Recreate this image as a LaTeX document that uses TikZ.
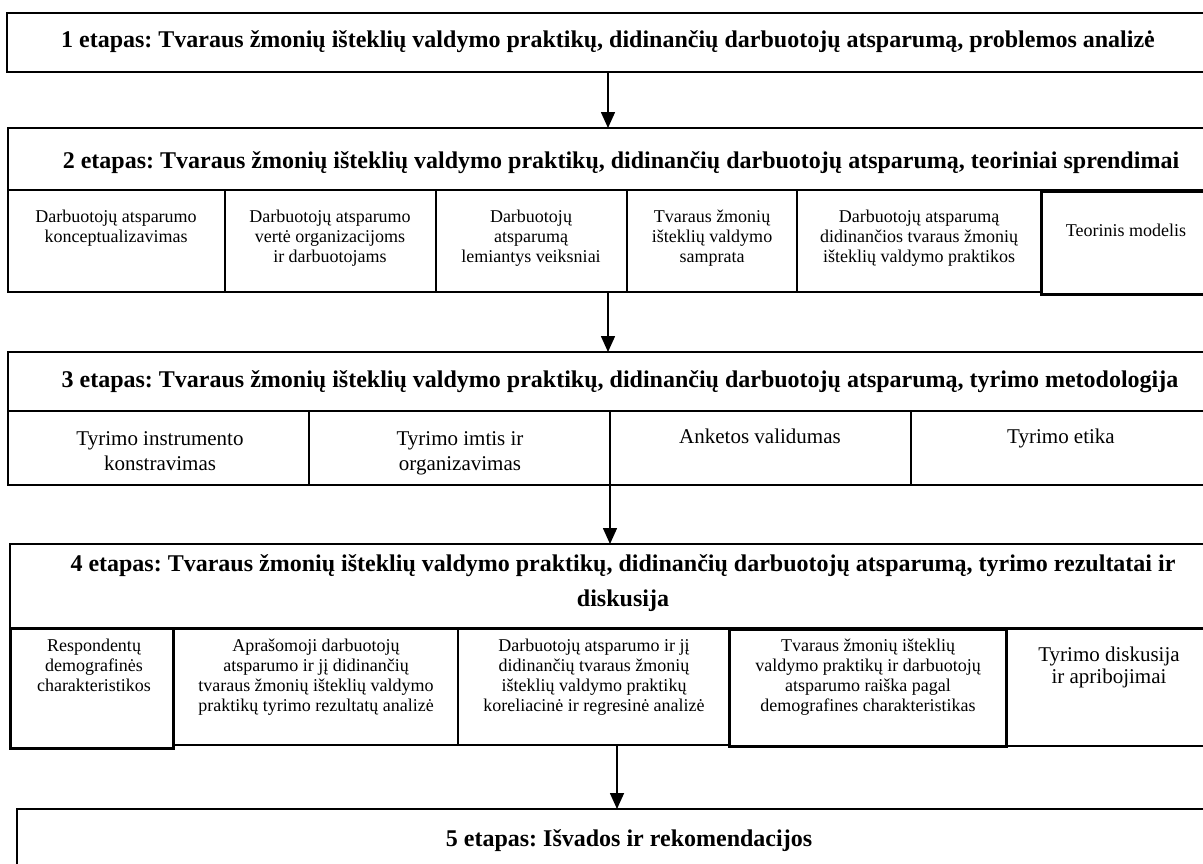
\documentclass[tikz,border=0pt]{standalone}
\usepackage{fontspec}
\setmainfont{Liberation Serif}
\usetikzlibrary{fit,arrows.meta}
\begin{document}
\begin{tikzpicture}[x=1pt,y=-1pt,
  box/.style={draw, line width=2.5pt, inner sep=0pt, outer sep=0pt},
  hd/.style={font=\frenchspacing\fontsize{24}{35}\selectfont\bfseries, anchor=base, align=center, inner sep=0pt},
  sm/.style={font=\frenchspacing\fontsize{18}{20}\selectfont, anchor=base, align=center, inner sep=0pt},
  md/.style={font=\frenchspacing\fontsize{21}{25}\selectfont, anchor=base, align=center, inner sep=0pt},
  lg/.style={font=\frenchspacing\fontsize{21}{22}\selectfont, anchor=base, align=center, inner sep=0pt},
  arr/.style={line width=1.6pt, -{Triangle[width=14pt,length=16pt]}}]
\useasboundingbox (0,0) rectangle (1203,863);
\clip (0,0) rectangle (1203,863);

% stage 1
\node[box, fit={(7,13)(1215,72)}] (h1) {};
\node[hd] at (608,47) {1 etapas: Tvaraus žmonių išteklių valdymo praktikų, didinančių darbuotojų atsparumą, problemos analizė};

% stage 2 (base anchor = baseline of the last line)
\node[box, fit={(8,128)(1215,190)}] (h2) {};
\node[hd] at (621,168) {2 etapas: Tvaraus žmonių išteklių valdymo praktikų, didinančių darbuotojų atsparumą, teoriniai sprendimai};
\node[box, fit={(8,190)(225,292)}] (s21) {};
\node[box, fit={(225,190)(436,292)}] (s22) {};
\node[box, fit={(436,190)(627,292)}] (s23) {};
\node[box, fit={(627,190)(797,292)}] (s24) {};
\node[box, fit={(797,190)(1041,292)}] (s25) {};
\node[box, line width=3pt, fit={(1041,191)(1215,294)}] (s26) {};
\node[sm] at (116,242) {Darbuotojų atsparumo\\konceptualizavimas};
\node[sm] at (330,262) {Darbuotojų atsparumo\\vertė organizacijoms\\ir darbuotojams};
\node[sm] at (531,262) {Darbuotojų\\atsparumą\\lemiantys veiksniai};
\node[sm] at (712,262) {Tvaraus žmonių\\išteklių valdymo\\samprata};
\node[sm] at (919,262) {Darbuotojų atsparumą\\didinančios tvaraus žmonių\\išteklių valdymo praktikos};
\node[sm] at (1126,236) {Teorinis modelis};

% stage 3
\node[box, fit={(8,352)(1215,411)}] (h3) {};
\node[hd] at (620,387) {3 etapas: Tvaraus žmonių išteklių valdymo praktikų, didinančių darbuotojų atsparumą, tyrimo metodologija};
\node[box, fit={(8,411)(309,485)}] (s31) {};
\node[box, fit={(309,411)(610,485)}] (s32) {};
\node[box, fit={(610,411)(911,485)}] (s33) {};
\node[box, fit={(911,411)(1215,485)}] (s34) {};
\node[md] at (160,470) {Tyrimo instrumento\\konstravimas};
\node[md] at (460,470) {Tyrimo imtis ir\\organizavimas};
\node[md] at (760,443) {Anketos validumas};
\node[md] at (1061,443) {Tyrimo etika};

% stage 4
\node[box, fit={(10,544)(1215,628)}] (h4) {};
\node[hd] at (623,606) {4 etapas: Tvaraus žmonių išteklių valdymo praktikų, didinančių darbuotojų atsparumą, tyrimo rezultatai ir\\diskusija};
\node[box, line width=3pt, fit={(10,628)(173,748)}] (s41) {};
\node[box, fit={(173,629)(458,745)}] (s42) {};
\node[box, fit={(458,629)(729,745)}] (s43) {};
\node[box, line width=3pt, fit={(729,629)(1006,746)}] (s44) {};
\node[box, fit={(1006,629)(1215,746)}] (s45) {};
\node[sm] at (94,691) {Respondentų\\demografinės\\charakteristikos};
\node[sm] at (316,711) {Aprašomoji darbuotojų\\atsparumo ir jį didinančių\\tvaraus žmonių išteklių valdymo\\praktikų tyrimo rezultatų analizė};
\node[sm] at (594,711) {Darbuotojų atsparumo ir jį\\didinančių tvaraus žmonių\\išteklių valdymo praktikų\\koreliacinė ir regresinė analizė};
\node[sm] at (868,711) {Tvaraus žmonių išteklių\\valdymo praktikų ir darbuotojų\\atsparumo raiška pagal\\demografines charakteristikas};
\node[lg] at (1109,683) {Tyrimo diskusija\\ir apribojimai};

% stage 5
\node[box, fit={(17,809)(1215,880)}] (h5) {};
\node[hd] at (629,846) {5 etapas: Išvados ir rekomendacijos};

% connectors
\coordinate (a1) at (608,0);
\coordinate (a2) at (608,0);
\coordinate (a3) at (610,0);
\coordinate (a4) at (617,0);
\draw[arr] (h1.south -| a1) -- (h2.north -| a1);
\draw[arr] (s23.south -| a2) -- (h3.north -| a2);
\draw[arr] (s33.south -| a3) -- (h4.north -| a3);
\draw[arr] (s43.south -| a4) -- (h5.north -| a4);
\end{tikzpicture}
\end{document}
